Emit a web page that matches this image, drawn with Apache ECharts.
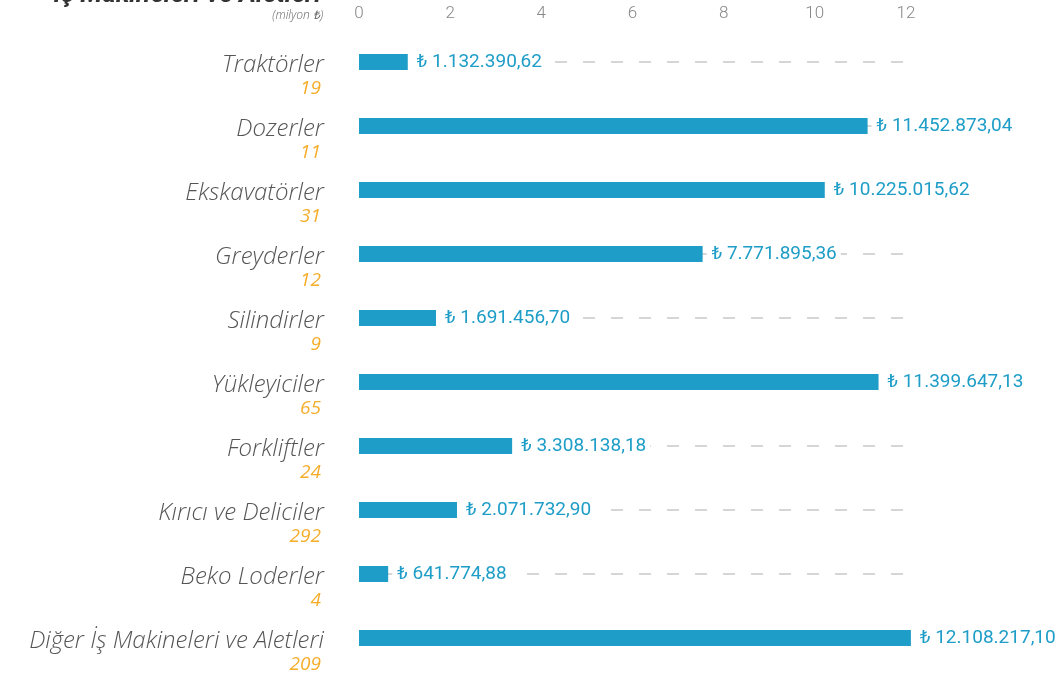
<!DOCTYPE html>
<html>
<head>
<meta charset="utf-8">
<script src="https://cdn.jsdelivr.net/npm/echarts@6/dist/echarts.min.js"></script>
<style>
  html, body { margin: 0; padding: 0; background: #fff; }
  #chart { width: 1059px; height: 673px; }
</style>
</head>
<body>
<div id="chart"></div>
<script>
// kategoriler ve adetleri
var categories = ['Traktörler', 'Dozerler', 'Ekskavatörler', 'Greyderler', 'Silindirler',
  'Yükleyiciler', 'Forkliftler', 'Kırıcı ve Deliciler', 'Beko Loderler', 'Diğer İş Makineleri ve Aletleri']
var counts = [19, 11, 31, 12, 9, 65, 24, 292, 4, 209]
// bar uzunluklari (milyon TL)
var values = [1.07, 11.16, 10.22, 7.54, 1.69, 11.40, 3.36, 2.15, 0.64, 12.11]
var valueLabels = ['₺ 1.132.390,62', '₺ 11.452.873,04', '₺ 10.225.015,62', '₺ 7.771.895,36', '₺ 1.691.456,70',
  '₺ 11.399.647,13', '₺ 3.308.138,18', '₺ 2.071.732,90', '₺ 641.774,88', '₺ 12.108.217,10']
var trackMax = 12
var axisMax = 12.2

var chart = echarts.init(document.getElementById('chart'))
chart.setOption({
  animation: false,
  grid: {
    left: 359,
    width: 556,
    top: 30,
    height: 640,
    outerBoundsMode: 'none'
  },
  graphic: [
    {
      type: 'text',
      x: 321,
      y: 8,
      style: {
        text: 'İş Makineleri ve Aletleri',
        align: 'right',
        verticalAlign: 'bottom',
        fill: '#333',
        font: 'italic bold 26px Roboto, sans-serif'
      }
    },
    {
      type: 'text',
      x: 323,
      y: 16,
      style: {
        text: '(milyon ₺)',
        align: 'right',
        verticalAlign: 'middle',
        fill: '#666',
        font: 'italic 300 12px "Open Sans", sans-serif'
      }
    }
  ],
  xAxis: {
    type: 'value',
    position: 'top',
    min: 0,
    max: axisMax,
    interval: 2,
    axisLine: { show: false },
    axisTick: { show: false },
    splitLine: { show: false },
    axisLabel: {
      showMaxLabel: false,
      margin: 8,
      color: '#888',
      fontSize: 17,
      fontWeight: 300,
      fontFamily: 'Roboto'
    }
  },
  yAxis: {
    type: 'category',
    inverse: true,
    data: categories,
    axisLine: { show: false },
    axisTick: { show: false },
    splitLine: { show: false },
    axisLabel: {
      margin: 35,
      padding: [30, 0, 0, 0],
      formatter: function (v, i) {
        return '{n|' + v + '}\n{c|' + counts[i] + '}'
      },
      rich: {
        n: {
          fontFamily: 'Open Sans',
          fontStyle: 'italic',
          fontWeight: 300,
          fontSize: 24,
          color: '#555',
          lineHeight: 24
        },
        c: {
          fontFamily: 'Open Sans',
          fontStyle: 'italic',
          fontWeight: 400,
          fontSize: 19,
          color: '#f5ad2a',
          lineHeight: 24,
          padding: [0, 3, 0, 0]
        }
      }
    }
  },
  series: [
    {
      // kesikli arka plan cizgileri
      type: 'custom',
      z: 1,
      silent: true,
      data: categories.map(function (c, i) { return [trackMax, i] }),
      encode: { x: 0, y: 1 },
      renderItem: function (params, api) {
        var start = api.coord([0, api.value(1)])
        var end = api.coord([api.value(0), api.value(1)])
        return {
          type: 'line',
          shape: { x1: start[0], y1: start[1], x2: end[0], y2: end[1] },
          style: { stroke: '#d6d6d6', lineWidth: 2, lineDash: [12, 16] }
        }
      }
    },
    {
      type: 'bar',
      z: 2,
      data: values,
      barWidth: 16,
      itemStyle: { color: '#1d9dc7' },
      label: {
        show: true,
        position: 'right',
        distance: 4,
        padding: [2, 4, 2, 5],
        backgroundColor: '#fff',
        color: '#1d9dc7',
        fontSize: 19,
        fontFamily: 'Roboto',
        formatter: function (p) {
          return valueLabels[p.dataIndex]
        }
      }
    }
  ]
})
</script>
</body>
</html>
